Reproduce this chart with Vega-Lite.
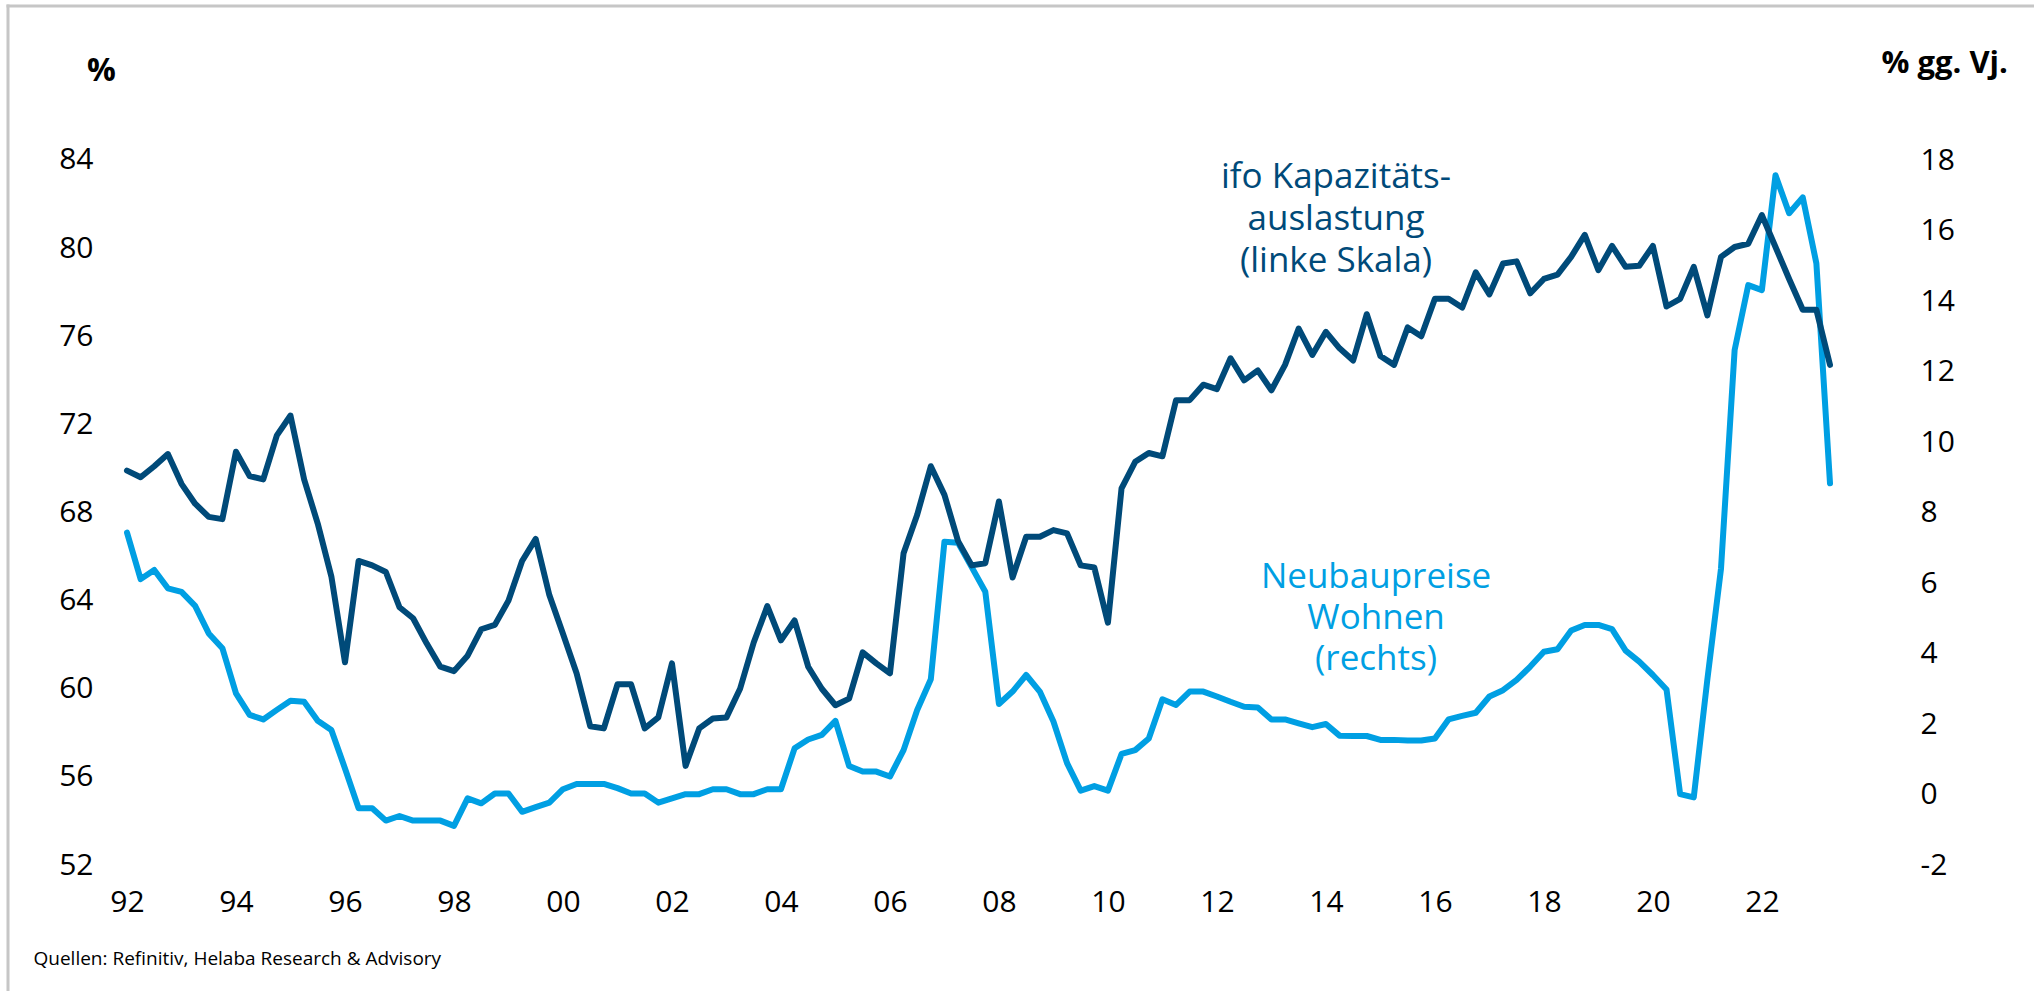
{
  "$schema": "https://vega.github.io/schema/vega-lite/v6.json",
  "width": 2034,
  "height": 991,
  "padding": 0,
  "autosize": {"type": "none"},
  "background": "white",
  "config": {
    "view": {"stroke": null},
    "font": "Open Sans",
    "axis": {"labelFont": "Open Sans", "titleFont": "Open Sans", "labelColor": "#000000", "titleColor": "#000000"}
  },
  "data": {
    "values": [
      {"jahr": 1992.00, "ifo": 69.9, "preis": 7.43},
      {"jahr": 1992.25, "ifo": 69.6, "preis": 6.11},
      {"jahr": 1992.50, "ifo": 70.1, "preis": 6.37},
      {"jahr": 1992.75, "ifo": 70.65, "preis": 5.85},
      {"jahr": 1993.00, "ifo": 69.3, "preis": 5.75},
      {"jahr": 1993.25, "ifo": 68.4, "preis": 5.35},
      {"jahr": 1993.50, "ifo": 67.8, "preis": 4.57},
      {"jahr": 1993.75, "ifo": 67.7, "preis": 4.15},
      {"jahr": 1994.00, "ifo": 70.76, "preis": 2.87},
      {"jahr": 1994.25, "ifo": 69.65, "preis": 2.26},
      {"jahr": 1994.50, "ifo": 69.5, "preis": 2.13},
      {"jahr": 1994.75, "ifo": 71.5, "preis": 2.40},
      {"jahr": 1995.00, "ifo": 72.4, "preis": 2.66},
      {"jahr": 1995.25, "ifo": 69.5, "preis": 2.63},
      {"jahr": 1995.50, "ifo": 67.5, "preis": 2.09},
      {"jahr": 1995.75, "ifo": 65.1, "preis": 1.83},
      {"jahr": 1996.00, "ifo": 61.2, "preis": 0.74},
      {"jahr": 1996.25, "ifo": 65.8, "preis": -0.39},
      {"jahr": 1996.50, "ifo": 65.6, "preis": -0.39},
      {"jahr": 1996.75, "ifo": 65.3, "preis": -0.74},
      {"jahr": 1997.00, "ifo": 63.7, "preis": -0.61},
      {"jahr": 1997.25, "ifo": 63.2, "preis": -0.74},
      {"jahr": 1997.50, "ifo": 62.05, "preis": -0.74},
      {"jahr": 1997.75, "ifo": 61.0, "preis": -0.74},
      {"jahr": 1998.00, "ifo": 60.8, "preis": -0.89},
      {"jahr": 1998.25, "ifo": 61.5, "preis": -0.11},
      {"jahr": 1998.50, "ifo": 62.7, "preis": -0.25},
      {"jahr": 1998.75, "ifo": 62.9, "preis": 0.03},
      {"jahr": 1999.00, "ifo": 64.0, "preis": 0.03},
      {"jahr": 1999.25, "ifo": 65.8, "preis": -0.49},
      {"jahr": 1999.50, "ifo": 66.8, "preis": -0.36},
      {"jahr": 1999.75, "ifo": 64.25, "preis": -0.23},
      {"jahr": 2000.00, "ifo": 62.5, "preis": 0.15},
      {"jahr": 2000.25, "ifo": 60.7, "preis": 0.30},
      {"jahr": 2000.50, "ifo": 58.3, "preis": 0.30},
      {"jahr": 2000.75, "ifo": 58.2, "preis": 0.30},
      {"jahr": 2001.00, "ifo": 60.2, "preis": 0.18},
      {"jahr": 2001.25, "ifo": 60.2, "preis": 0.03},
      {"jahr": 2001.50, "ifo": 58.2, "preis": 0.03},
      {"jahr": 2001.75, "ifo": 58.7, "preis": -0.23},
      {"jahr": 2002.00, "ifo": 61.15, "preis": -0.11},
      {"jahr": 2002.25, "ifo": 56.5, "preis": 0.01},
      {"jahr": 2002.50, "ifo": 58.2, "preis": 0.01},
      {"jahr": 2002.75, "ifo": 58.65, "preis": 0.15},
      {"jahr": 2003.00, "ifo": 58.7, "preis": 0.15},
      {"jahr": 2003.25, "ifo": 60.0, "preis": 0.01},
      {"jahr": 2003.50, "ifo": 62.1, "preis": 0.01},
      {"jahr": 2003.75, "ifo": 63.75, "preis": 0.15},
      {"jahr": 2004.00, "ifo": 62.2, "preis": 0.15},
      {"jahr": 2004.25, "ifo": 63.1, "preis": 1.31},
      {"jahr": 2004.50, "ifo": 61.0, "preis": 1.56},
      {"jahr": 2004.75, "ifo": 60.0, "preis": 1.69},
      {"jahr": 2005.00, "ifo": 59.25, "preis": 2.09},
      {"jahr": 2005.25, "ifo": 59.55, "preis": 0.81},
      {"jahr": 2005.50, "ifo": 61.65, "preis": 0.65},
      {"jahr": 2005.75, "ifo": 61.15, "preis": 0.65},
      {"jahr": 2006.00, "ifo": 60.7, "preis": 0.51},
      {"jahr": 2006.25, "ifo": 66.15, "preis": 1.26},
      {"jahr": 2006.50, "ifo": 67.9, "preis": 2.40},
      {"jahr": 2006.75, "ifo": 70.1, "preis": 3.27},
      {"jahr": 2007.00, "ifo": 68.8, "preis": 7.17},
      {"jahr": 2007.25, "ifo": 66.7, "preis": 7.14},
      {"jahr": 2007.50, "ifo": 65.6, "preis": 6.45},
      {"jahr": 2007.75, "ifo": 65.7, "preis": 5.75},
      {"jahr": 2008.00, "ifo": 68.5, "preis": 2.57},
      {"jahr": 2008.25, "ifo": 65.05, "preis": 2.92},
      {"jahr": 2008.50, "ifo": 66.9, "preis": 3.39},
      {"jahr": 2008.75, "ifo": 66.9, "preis": 2.92},
      {"jahr": 2009.00, "ifo": 67.2, "preis": 2.07},
      {"jahr": 2009.25, "ifo": 67.05, "preis": 0.89},
      {"jahr": 2009.50, "ifo": 65.6, "preis": 0.11},
      {"jahr": 2009.75, "ifo": 65.5, "preis": 0.24},
      {"jahr": 2010.00, "ifo": 63.0, "preis": 0.11},
      {"jahr": 2010.25, "ifo": 69.1, "preis": 1.15},
      {"jahr": 2010.50, "ifo": 70.3, "preis": 1.26},
      {"jahr": 2010.75, "ifo": 70.7, "preis": 1.59},
      {"jahr": 2011.00, "ifo": 70.55, "preis": 2.70},
      {"jahr": 2011.25, "ifo": 73.1, "preis": 2.54},
      {"jahr": 2011.50, "ifo": 73.1, "preis": 2.92},
      {"jahr": 2011.75, "ifo": 73.8, "preis": 2.92},
      {"jahr": 2012.00, "ifo": 73.6, "preis": 2.78},
      {"jahr": 2012.25, "ifo": 75.0, "preis": 2.63},
      {"jahr": 2012.50, "ifo": 74.0, "preis": 2.49},
      {"jahr": 2012.75, "ifo": 74.45, "preis": 2.47},
      {"jahr": 2013.00, "ifo": 73.55, "preis": 2.13},
      {"jahr": 2013.25, "ifo": 74.7, "preis": 2.13},
      {"jahr": 2013.50, "ifo": 76.35, "preis": 2.02},
      {"jahr": 2013.75, "ifo": 75.15, "preis": 1.91},
      {"jahr": 2014.00, "ifo": 76.2, "preis": 2.0},
      {"jahr": 2014.25, "ifo": 75.45, "preis": 1.67},
      {"jahr": 2014.50, "ifo": 74.9, "preis": 1.66},
      {"jahr": 2014.75, "ifo": 77.0, "preis": 1.66},
      {"jahr": 2015.00, "ifo": 75.1, "preis": 1.55},
      {"jahr": 2015.25, "ifo": 74.7, "preis": 1.55},
      {"jahr": 2015.50, "ifo": 76.4, "preis": 1.53},
      {"jahr": 2015.75, "ifo": 76.0, "preis": 1.53},
      {"jahr": 2016.00, "ifo": 77.7, "preis": 1.59},
      {"jahr": 2016.25, "ifo": 77.7, "preis": 2.13},
      {"jahr": 2016.50, "ifo": 77.3, "preis": 2.23},
      {"jahr": 2016.75, "ifo": 78.9, "preis": 2.32},
      {"jahr": 2017.00, "ifo": 77.9, "preis": 2.78},
      {"jahr": 2017.25, "ifo": 79.3, "preis": 2.96},
      {"jahr": 2017.50, "ifo": 79.4, "preis": 3.25},
      {"jahr": 2017.75, "ifo": 77.95, "preis": 3.63},
      {"jahr": 2018.00, "ifo": 78.6, "preis": 4.05},
      {"jahr": 2018.25, "ifo": 78.8, "preis": 4.12},
      {"jahr": 2018.50, "ifo": 79.6, "preis": 4.65},
      {"jahr": 2018.75, "ifo": 80.6, "preis": 4.81},
      {"jahr": 2019.00, "ifo": 79.0, "preis": 4.81},
      {"jahr": 2019.25, "ifo": 80.1, "preis": 4.69},
      {"jahr": 2019.50, "ifo": 79.15, "preis": 4.08},
      {"jahr": 2019.75, "ifo": 79.2, "preis": 3.77},
      {"jahr": 2020.00, "ifo": 80.1, "preis": 3.39},
      {"jahr": 2020.25, "ifo": 77.35, "preis": 2.98},
      {"jahr": 2020.50, "ifo": 77.7, "preis": 0.01},
      {"jahr": 2020.75, "ifo": 79.15, "preis": -0.08},
      {"jahr": 2021.00, "ifo": 76.95, "preis": 3.27},
      {"jahr": 2021.25, "ifo": 79.6, "preis": 6.41},
      {"jahr": 2021.50, "ifo": 80.05, "preis": 12.61},
      {"jahr": 2021.75, "ifo": 80.2, "preis": 14.45},
      {"jahr": 2022.00, "ifo": 81.5, "preis": 14.31},
      {"jahr": 2022.25, "ifo": 80.05, "preis": 17.57},
      {"jahr": 2022.50, "ifo": 78.6, "preis": 16.49},
      {"jahr": 2022.75, "ifo": 77.2, "preis": 16.94},
      {"jahr": 2023.00, "ifo": 77.2, "preis": 15.07},
      {"jahr": 2023.25, "ifo": 74.7, "preis": 8.83}
    ]
  },
  "layer": [
    {
      "layer": [
        {
          "mark": {"type": "line", "color": "#009FE3", "strokeWidth": 6, "strokeJoin": "round", "strokeCap": "round"},
          "encoding": {
            "x": {"field": "jahr", "type": "quantitative", "scale": {"domain": [1989.6696, 2026.9934], "nice": false, "zero": false}},
            "y": {
              "field": "preis", "type": "quantitative",
              "scale": {"domain": [-5.574, 22.539], "nice": false, "zero": false},
              "axis": {
                "orient": "right", "values": [-2, 0, 2, 4, 6, 8, 10, 12, 14, 16, 18],
                "labelExpr": "toString(datum.value)",
                "offset": -114, "domain": false, "ticks": false, "tickSize": 0, "grid": false,
                "labelPadding": 0, "labelFontSize": 30, "labelFlush": false, "labelOverlap": false,
                "title": "% gg. Vj.", "titleAngle": 0, "titleX": -39, "titleY": 72,
                "titleAlign": "left", "titleBaseline": "alphabetic", "titleFontSize": 31, "titleFontWeight": "bold"
              }
            }
          }
        },
        {
          "data": {"values": [{}]},
          "mark": {"type": "text", "text": ["Neubaupreise", "Wohnen", "(rechts)"], "align": "center", "baseline": "alphabetic", "fontSize": 35, "lineHeight": 41, "color": "#009FE3", "font": "Open Sans"},
          "encoding": {
            "x": {"datum": 2014.92, "type": "quantitative", "scale": {"domain": [1989.6696, 2026.9934], "nice": false, "zero": false}},
            "y": {"datum": 5.858, "type": "quantitative", "scale": {"domain": [-5.574, 22.539], "nice": false, "zero": false}}
          }
        }
      ]
    },
    {
      "layer": [
        {
          "data": {"values": [{}]},
          "mark": {"type": "rule", "color": "#C6C6C6", "strokeWidth": 3, "strokeCap": "square"},
          "encoding": {
            "x": {"datum": 1989.8164, "type": "quantitative", "scale": {"domain": [1989.6696, 2026.9934], "nice": false, "zero": false}},
            "y": {"datum": 90.99, "type": "quantitative", "scale": {"domain": [46.281, 91.262], "nice": false, "zero": false}},
            "y2": {"datum": 46.281}
          }
        },
        {
          "data": {"values": [{}]},
          "mark": {"type": "rule", "color": "#C6C6C6", "strokeWidth": 3, "strokeCap": "square"},
          "encoding": {
            "x": {"datum": 1989.8164, "type": "quantitative", "scale": {"domain": [1989.6696, 2026.9934], "nice": false, "zero": false}},
            "x2": {"datum": 2026.9934},
            "y": {"datum": 90.99, "type": "quantitative", "scale": {"domain": [46.281, 91.262], "nice": false, "zero": false}}
          }
        },
        {
          "mark": {"type": "line", "color": "#004A79", "strokeWidth": 6, "strokeJoin": "round", "strokeCap": "round"},
          "encoding": {
            "x": {
              "field": "jahr", "type": "quantitative",
              "scale": {"domain": [1989.6696, 2026.9934], "nice": false, "zero": false},
              "axis": {
                "orient": "bottom",
                "values": [1992, 1994, 1996, 1998, 2000, 2002, 2004, 2006, 2008, 2010, 2012, 2014, 2016, 2018, 2020, 2022],
                "labelExpr": "substring(toString(datum.value), 2)",
                "offset": -80, "domain": false, "ticks": false, "tickSize": 0, "grid": false,
                "labelPadding": 0, "labelBaseline": "alphabetic", "labelFontSize": 30, "labelFlush": false, "labelOverlap": false,
                "title": "Quellen: Refinitiv, Helaba Research & Advisory",
                "titleX": 33, "titleY": 53, "titleAlign": "left", "titleBaseline": "alphabetic",
                "titleFontSize": 19, "titleFontWeight": "normal"
              }
            },
            "y": {
              "field": "ifo", "type": "quantitative",
              "scale": {"domain": [46.281, 91.262], "nice": false, "zero": false},
              "axis": {
                "orient": "left", "values": [52, 56, 60, 64, 68, 72, 76, 80, 84],
                "offset": -93, "domain": false, "ticks": false, "tickSize": 0, "grid": false,
                "labelPadding": 0, "labelFontSize": 30, "labelFlush": false, "labelOverlap": false,
                "title": "%", "titleAngle": 0, "titleX": 8, "titleY": 80,
                "titleAlign": "center", "titleBaseline": "alphabetic", "titleFontSize": 32, "titleFontWeight": "bold"
              }
            }
          }
        },
        {
          "data": {"values": [{}]},
          "mark": {"type": "text", "text": ["ifo Kapazitäts-", "auslastung", "(linke Skala)"], "align": "center", "baseline": "alphabetic", "fontSize": 35, "lineHeight": 42, "color": "#004A79", "font": "Open Sans"},
          "encoding": {
            "x": {"datum": 2014.185, "type": "quantitative", "scale": {"domain": [1989.6696, 2026.9934], "nice": false, "zero": false}},
            "y": {"datum": 82.73, "type": "quantitative", "scale": {"domain": [46.281, 91.262], "nice": false, "zero": false}}
          }
        }
      ]
    }
  ],
  "resolve": {"scale": {"y": "independent"}}
}
